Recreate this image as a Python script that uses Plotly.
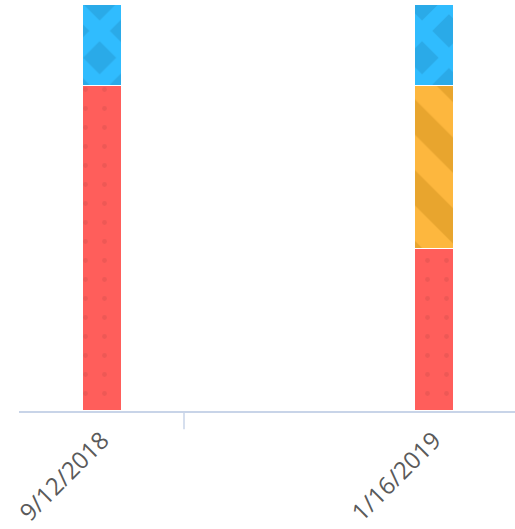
import plotly.graph_objects as go

categories = ["9/12/2018", "1/16/2019"]
red_values = [4, 2]
orange_values = [0, 2]
blue_values = [1, 1]

x_pos = list(range(len(categories)))

fig = go.Figure()
fig.add_trace(go.Bar(
    x=x_pos, y=red_values, name="A", width=0.118,
    marker=dict(color="#FF5E5B", line=dict(color="white", width=1.2),
                pattern=dict(shape=".", fgcolor="#EE5855", bgcolor="#FF5E5B",
                             size=19, solidity=0.05, fillmode="replace")),
))
fig.add_trace(go.Bar(
    x=x_pos, y=orange_values, name="B", width=0.118,
    marker=dict(color="#FDB73E", line=dict(color="white", width=1.2),
                pattern=dict(shape="\\", fgcolor="#E8A52E", bgcolor="#FDB73E",
                             size=50, solidity=0.5, fillmode="replace")),
))
fig.add_trace(go.Bar(
    x=x_pos, y=blue_values, name="C", width=0.118,
    marker=dict(color="#30BCFE", line=dict(color="white", width=1.2),
                pattern=dict(shape="x", fgcolor="#30BCFE", bgcolor="#2AAAE8",
                             size=38, solidity=0.62, fillmode="replace")),
))

fig.add_shape(type="line", xref="x", yref="paper", x0=0.247, x1=0.247,
              y0=0, y1=-0.045, line=dict(color="#C8D4E8", width=1.5))

fig.update_layout(
    barmode="stack",
    width=515, height=529,
    margin=dict(l=19, r=0, t=4, b=118, autoexpand=False),
    paper_bgcolor="white", plot_bgcolor="white",
    showlegend=False,
    xaxis=dict(range=[-0.25, 1.244], tickvals=x_pos, ticktext=categories,
               tickangle=-45, showgrid=False, zeroline=False, automargin=False,
               showline=True, linecolor="#C8D4E8", linewidth=1.5,
               ticks="", ticklabelstandoff=4,
               tickfont=dict(family="Open Sans", size=24, color="#5A5A5A")),
    yaxis=dict(range=[0, 5], visible=False, showgrid=False, zeroline=False,
               automargin=False),
)

fig.write_html("out.html", config={"displayModeBar": False},
               post_script="document.body.style.margin='0';document.body.style.padding='0';document.body.style.overflow='hidden';")
